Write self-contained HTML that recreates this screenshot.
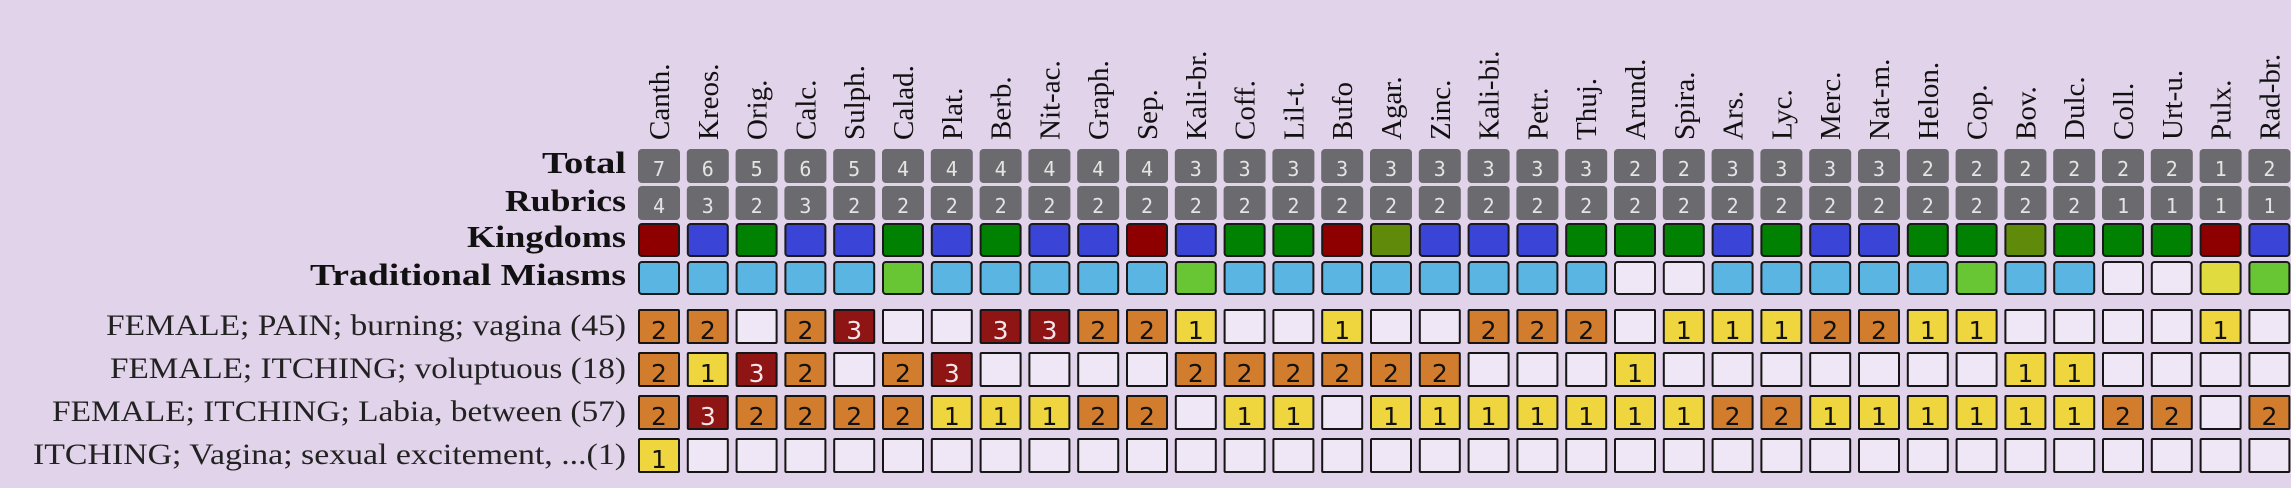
<!DOCTYPE html>
<html><head><meta charset="utf-8"><style>
html,body{margin:0;padding:0;background:#e1d3e9;width:2291px;height:488px;overflow:hidden}
svg{display:block}
</style></head><body>
<svg id="s" width="2291" height="488" xmlns="http://www.w3.org/2000/svg"></svg>
<script>
const cols=["Canth.","Kreos.","Orig.","Calc.","Sulph.","Calad.","Plat.","Berb.","Nit-ac.","Graph.","Sep.","Kali-br.","Coff.","Lil-t.","Bufo","Agar.","Zinc.","Kali-bi.","Petr.","Thuj.","Arund.","Spira.","Ars.","Lyc.","Merc.","Nat-m.","Helon.","Cop.","Bov.","Dulc.","Coll.","Urt-u.","Pulx.","Rad-br."];
const tot=[7,6,5,6,5,4,4,4,4,4,4,3,3,3,3,3,3,3,3,3,2,2,3,3,3,3,2,2,2,2,2,2,1,2];
const rub=[4,3,2,3,2,2,2,2,2,2,2,2,2,2,2,2,2,2,2,2,2,2,2,2,2,2,2,2,2,2,1,1,1,1];
const king="RBGBBGBGBBRBGGROBBBGGGBGBBGGOGGGRB";
const mias="LLLLLNLLLLLNLLLLLLLLWWLLLLLNLLWWYN";
const rows=[
[2,2,0,2,3,0,0,3,3,2,2,1,0,0,1,0,0,2,2,2,0,1,1,1,2,2,1,1,0,0,0,0,1,0],
[2,1,3,2,0,2,3,0,0,0,0,2,2,2,2,2,2,0,0,0,1,0,0,0,0,0,0,0,1,1,0,0,0,0],
[2,3,2,2,2,2,1,1,1,2,2,0,1,1,0,1,1,1,1,1,1,1,2,2,1,1,1,1,1,1,2,2,0,2],
[1,0,0,0,0,0,0,0,0,0,0,0,0,0,0,0,0,0,0,0,0,0,0,0,0,0,0,0,0,0,0,0,0,0]];
const KC={R:"#8e0000",B:"#3a44d6",G:"#018101",O:"#5f8a0a"};
const MC={L:"#5ab5e2",N:"#68c634",W:"#efe7f5",Y:"#e0db3e"};
const RC=["#efe7f5","#efd63e","#d27d2e","#8f1515"];
let h="";
const serif='font-family="Liberation Serif, DejaVu Serif, serif"';
// left labels
const L=[["Total",173,84],["Rubrics",211,121],["Kingdoms",247,159],["Traditional Miasms",285,316]];
L.forEach(l=>{h+=`<text x="626" y="${l[1]}" text-anchor="end" ${serif} font-weight="bold" font-size="31" textLength="${l[2]}" lengthAdjust="spacingAndGlyphs" fill="#111">${l[0]}</text>`});
const R=[["FEMALE; PAIN; burning; vagina (45)",335,520],["FEMALE; ITCHING; voluptuous (18)",378,516],["FEMALE; ITCHING; Labia, between (57)",421,574],["ITCHING; Vagina; sexual excitement, ...(1)",464,593]];
R.forEach(l=>{h+=`<text x="626" y="${l[1]}" text-anchor="end" ${serif} font-size="30" textLength="${l[2]}" lengthAdjust="spacingAndGlyphs" fill="#222">${l[0]}</text>`});
cols.forEach((c,i)=>{
 const x=638+i*48.8, cx=x+21;
 h+=`<text transform="translate(${cx+10},140) rotate(-90)" ${serif} font-size="29" fill="#111">${c}</text>`;
 h+=`<rect x="${x}" y="149" width="42" height="34" rx="4" fill="#6b6a6e"/>`;
 h+=`<text x="${cx}" y="176" text-anchor="middle" font-family="DejaVu Sans Mono, Liberation Mono, monospace" font-size="20" fill="#e4e4e4">${tot[i]}</text>`;
 h+=`<rect x="${x}" y="186" width="42" height="34" rx="4" fill="#6b6a6e"/>`;
 h+=`<text x="${cx}" y="213" text-anchor="middle" font-family="DejaVu Sans Mono, Liberation Mono, monospace" font-size="20" fill="#e4e4e4">${rub[i]}</text>`;
 h+=`<rect x="${x+1}" y="224" width="40" height="32" rx="3" fill="${KC[king[i]]}" stroke="#1a1a1a" stroke-width="2"/>`;
 h+=`<rect x="${x+1}" y="262" width="40" height="32" rx="3" fill="${MC[mias[i]]}" stroke="#1a1a1a" stroke-width="2"/>`;
 rows.forEach((r,j)=>{
  const y=309+j*43, v=r[i];
  h+=`<rect x="${x+1}" y="${y+1}" width="40" height="33" rx="1" fill="${RC[v]}" stroke="#151515" stroke-width="2"/>`;
  if(v) h+=`<text x="${cx}" y="${y+30}" text-anchor="middle" font-family="DejaVu Sans, Liberation Sans, sans-serif" font-size="25" fill="${v==3?'#f2e6ea':'#111'}">${v}</text>`;
 });
});
document.getElementById("s").innerHTML=h;
</script>
</body></html>
